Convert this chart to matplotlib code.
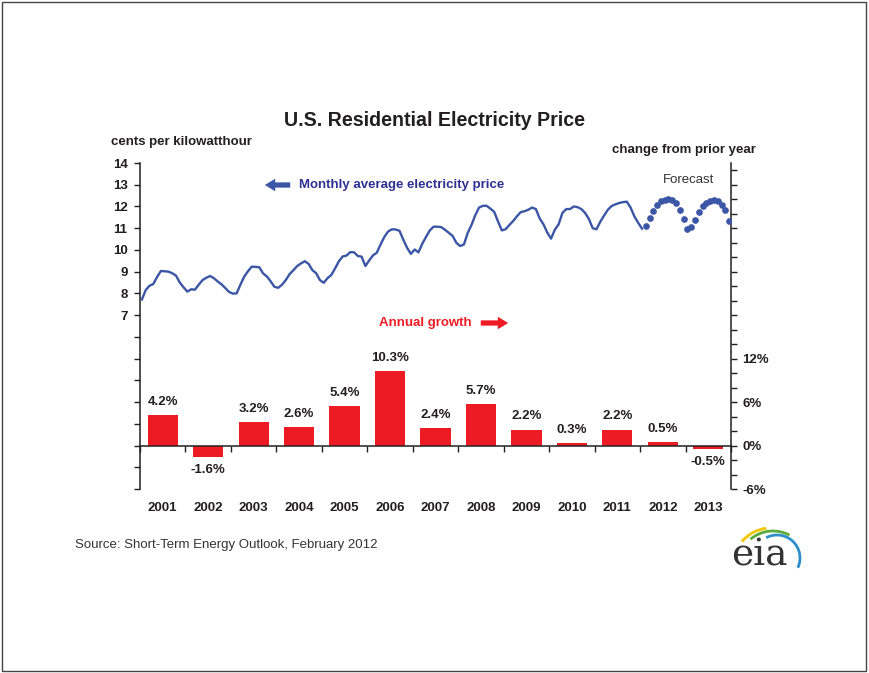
import numpy as np
import matplotlib.pyplot as plt
import matplotlib.transforms as mtransforms
from matplotlib.patches import Rectangle, Arc

plt.rcParams['font.family'] = ['Liberation Sans', 'DejaVu Sans']

# annual growth bars
years = ['2001', '2002', '2003', '2004', '2005', '2006', '2007',
         '2008', '2009', '2010', '2011', '2012', '2013']
growth = [4.2, -1.6, 3.2, 2.6, 5.4, 10.3, 2.4, 5.7, 2.2, 0.3, 2.2, 0.5, -0.5]
growth_labels = ['4.2%', '-1.6%', '3.2%', '2.6%', '5.4%', '10.3%', '2.4%',
                 '5.7%', '2.2%', '0.3%', '2.2%', '0.5%', '-0.5%']

# monthly price, Jan 2001 - Jan 2012 (history)
price_hist = [
    7.72, 8.15, 8.35, 8.43, 8.75, 9.03, 9.02, 9.00, 8.93, 8.82, 8.50, 8.28,
    8.08, 8.19, 8.17, 8.40, 8.61, 8.72, 8.80, 8.70, 8.55, 8.42, 8.25, 8.07,
    7.99, 8.00, 8.40, 8.77, 9.02, 9.23, 9.22, 9.20, 8.92, 8.78, 8.55, 8.30,
    8.26, 8.40, 8.62, 8.89, 9.07, 9.26, 9.38, 9.48, 9.36, 9.07, 8.93, 8.61,
    8.49, 8.70, 8.85, 9.15, 9.48, 9.70, 9.74, 9.90, 9.89, 9.72, 9.69, 9.26,
    9.52, 9.75, 9.87, 10.25, 10.60, 10.85, 10.95, 10.94, 10.88, 10.47, 10.10, 9.82,
    10.02, 9.89, 10.28, 10.60, 10.90, 11.07, 11.07, 11.05, 10.93, 10.79, 10.65, 10.33,
    10.18, 10.25, 10.78, 11.15, 11.60, 11.95, 12.03, 12.03, 11.90, 11.75, 11.31, 10.90,
    10.95, 11.15, 11.33, 11.55, 11.74, 11.78, 11.85, 11.95, 11.88, 11.45, 11.18, 10.80,
    10.52, 10.93, 11.18, 11.70, 11.88, 11.88, 12.00, 11.97, 11.88, 11.70, 11.42, 11.00,
    10.95, 11.30, 11.58, 11.85, 12.02, 12.10, 12.16, 12.20, 12.22, 11.95, 11.54, 11.25,
    10.98,
]
# forecast, Feb 2012 - Dec 2013
price_fcst = [11.11, 11.45, 11.81, 12.06, 12.23, 12.31, 12.34, 12.29, 12.14, 11.85, 11.42,
              10.97, 11.07, 11.38, 11.75, 12.00, 12.17, 12.27, 12.30, 12.24, 12.09, 11.85, 11.35]

RED = '#ED1C24'
BLUE = '#3C56A6'
NAVY = '#2E3192'
DARK = '#231F20'
FS = 9.5

W, H = 869, 673
fig = plt.figure(figsize=(W / 100, H / 100), dpi=100)

def fx(px):
    return px / W

def fy(py):
    return 1 - py / H

ax = fig.add_axes([fx(140), fy(489), fx(731) - fx(140), fy(163) - fy(489)])
ax2 = ax.twinx()

# bars (right axis, percent)
xc = np.arange(len(years)) * 12 + 6
ax.bar(xc, growth, width=8, color=RED, zorder=2)
for x, v, lab in zip(xc, growth, growth_labels):
    off = 9.5 if v >= 0 else -9.5
    ax.annotate(lab, xy=(x, v), xytext=(0, off), textcoords='offset points',
                ha='center', va='center', fontsize=FS, fontweight='bold', color=DARK)

ax.set_xlim(0, 156)
ax.set_ylim(-6, 39)
rticks = np.arange(-6, 39, 2)
ax.set_yticks(rticks)
ax.set_yticklabels([f'{t}%' if t % 6 == 0 and t <= 12 else '' for t in rticks])
ax.yaxis.tick_right()
ax.set_xticks(np.arange(0, 157, 12))
ax.set_xticklabels([])
ax.tick_params(axis='y', direction='out', length=4, width=1, pad=4,
               labelsize=FS, colors=DARK)
ax.tick_params(axis='x', direction='out', length=4, width=1, colors=DARK)
for lab in ax.get_yticklabels():
    lab.set_fontweight('bold')
ax.spines['left'].set_visible(False)
ax.spines['top'].set_visible(False)
ax.spines['bottom'].set_position(('data', 0))
for s in ['bottom', 'right']:
    ax.spines[s].set_color(DARK)
    ax.spines[s].set_linewidth(1.1)

trans = mtransforms.blended_transform_factory(ax.transData, ax.transAxes)
for x, y in zip(xc, years):
    ax.text(x, -0.058, y, transform=trans, ha='center', va='center',
            fontsize=FS, fontweight='bold', color=DARK)

# price line (left axis)
m_hist = np.arange(len(price_hist)) + 0.5
m_fcst = np.arange(len(price_hist), len(price_hist) + len(price_fcst)) + 0.5
ax2.plot(m_hist, price_hist, color=BLUE, lw=1.7, zorder=3)
ax2.plot(m_fcst, price_fcst, 'o', color=BLUE, ms=3.8, zorder=3)
ax2.set_ylim(-1, 14)
lticks = np.arange(-1, 15)
ax2.set_yticks(lticks)
ax2.set_yticklabels([str(t) if t >= 7 else '' for t in lticks])
ax2.yaxis.tick_left()
ax2.tick_params(axis='y', direction='out', length=4, width=1, pad=5,
                labelsize=FS, colors=DARK)
for lab in ax2.get_yticklabels():
    lab.set_fontweight('bold')
for s in ['right', 'top', 'bottom']:
    ax2.spines[s].set_visible(False)
ax2.spines['left'].set_color(DARK)
ax2.spines['left'].set_linewidth(1.1)

# texts
fig.text(fx(435), fy(120), 'U.S. Residential Electricity Price', ha='center', va='center',
         fontsize=14.1, fontweight='bold', color=DARK)
fig.text(fx(111), fy(142), 'cents per kilowatthour', ha='left', va='center',
         fontsize=FS, fontweight='bold', color=DARK)
fig.text(fx(612), fy(150), 'change from prior year', ha='left', va='center',
         fontsize=FS, fontweight='bold', color=DARK)
fig.text(fx(299), fy(185), 'Monthly average electricity price', ha='left', va='center',
         fontsize=FS, fontweight='bold', color=NAVY)
fig.text(fx(663), fy(180), 'Forecast', ha='left', va='center', fontsize=FS, color='#333333')
fig.text(fx(379), fy(323), 'Annual growth', ha='left', va='center',
         fontsize=FS, fontweight='bold', color=RED)
fig.text(fx(75), fy(545), 'Source: Short-Term Energy Outlook, February 2012', ha='left',
         va='center', fontsize=FS, color='#333333')

arrow = dict(arrowstyle='simple,head_width=0.9,head_length=0.75,tail_width=0.38', lw=0)
ax.annotate('', xy=(fx(262), fy(185)), xytext=(fx(293), fy(185)), xycoords='figure fraction',
            textcoords='figure fraction', arrowprops=dict(arrow, color=BLUE))
ax.annotate('', xy=(fx(511), fy(323)), xytext=(fx(478), fy(323)), xycoords='figure fraction',
            textcoords='figure fraction', arrowprops=dict(arrow, color=RED))

# eia logo
lax = fig.add_axes([fx(725), fy(572), fx(80), fy(0) - fy(57)])
lax.set_xlim(0, 80)
lax.set_ylim(0, 57)
lax.axis('off')
lax.text(34, 6, 'eia', ha='center', va='baseline', fontsize=27,
         family='DejaVu Serif', color='#333333')
lax.add_patch(Arc((46, 6), 76, 76, theta1=97, theta2=140, color='#F2C500', lw=2))
lax.add_patch(Arc((48, 6), 70, 70, theta1=62, theta2=130, color='#5BAA3C', lw=2))
lax.add_patch(Arc((52, 14), 46, 46, theta1=-25, theta2=118, color='#2E8FCB', lw=2))

# border
fig.add_artist(Rectangle((0.002, 0.003), 0.995, 0.994, transform=fig.transFigure,
                         fill=False, edgecolor='#444444', lw=1))

fig.savefig('out.png', dpi=100)
